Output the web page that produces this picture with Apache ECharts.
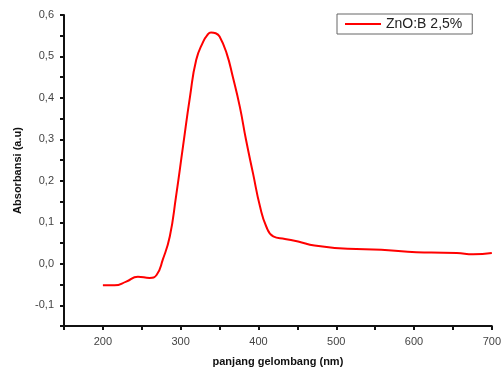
<!DOCTYPE html>
<html>
<head>
<meta charset="utf-8">
<script src="https://cdn.jsdelivr.net/npm/echarts@6/dist/echarts.min.js"></script>
<style>
  html, body { margin: 0; padding: 0; background: #fff; }
  #chart { width: 504px; height: 373px; }
</style>
</head>
<body>
<div id="chart"></div>
<script>
'use strict';
// UV-Vis absorbance spectrum
const wavelength = [200, 215, 230, 245, 260, 269, 277, 286, 294, 303, 312, 320, 329, 334, 339, 345, 350, 359, 367, 376, 384, 393, 402, 410, 419, 434, 451, 472, 515, 558, 592, 622, 655, 676, 700];
const absorbance = [-0.052, -0.052, -0.043, -0.031, -0.034, -0.027, 0.010, 0.066, 0.162, 0.283, 0.403, 0.492, 0.536, 0.551, 0.558, 0.556, 0.548, 0.508, 0.451, 0.379, 0.299, 0.218, 0.138, 0.090, 0.066, 0.060, 0.054, 0.044, 0.036, 0.034, 0.029, 0.027, 0.026, 0.023, 0.026];
const seriesName = 'ZnO:B 2,5%';
const xTitle = 'panjang gelombang (nm)';
const yTitle = 'Absorbansi (a.u)';

const font = 'Liberation Sans, Arial, sans-serif';
const comma = (v) => v.toFixed(1).replace('.', ',');

const chart = echarts.init(document.getElementById('chart'), null, { renderer: 'canvas' });
chart.setOption({
  animation: false,
  textStyle: { fontFamily: font },
  grid: { left: 64, right: 12, top: 15, bottom: 47, containLabel: false },
  legend: {
    left: 337, top: 14,
    padding: [3, 10, 3, 8],
    borderColor: '#666', borderWidth: 1,
    itemWidth: 36, itemHeight: 10, itemGap: 4,
    icon: 'path://M0,0 L36,0 L36,2 L0,2 Z',
    textStyle: { fontSize: 14, color: '#222', fontFamily: font },
    data: [seriesName],
  },
  xAxis: {
    type: 'value', min: 150, max: 700, interval: 50,
    name: xTitle, nameLocation: 'middle', nameGap: 30,
    nameTextStyle: { fontWeight: 'bold', fontSize: 11, color: '#111', fontFamily: font },
    axisLine: { show: true, onZero: false, lineStyle: { color: '#111', width: 2 } },
    axisTick: { show: true, length: 4, lineStyle: { color: '#111', width: 2 } },
    axisLabel: {
      fontSize: 11, color: '#444', margin: 10,
      formatter: (v) => (v % 100 === 0 ? String(v) : ''),
    },
    splitLine: { show: false },
  },
  yAxis: {
    type: 'value', min: -0.15, max: 0.6, interval: 0.05,
    name: yTitle, nameLocation: 'middle', nameGap: 41, nameRotate: 90,
    nameTextStyle: { fontWeight: 'bold', fontSize: 11, color: '#111', fontFamily: font },
    axisLine: { show: true, onZero: false, lineStyle: { color: '#111', width: 2 } },
    axisTick: { show: true, length: 4, lineStyle: { color: '#111', width: 2 } },
    axisLabel: {
      fontSize: 11, color: '#444', margin: 10,
      formatter: (v) => (Math.round(v * 100) % 10 === 0 ? comma(v) : ''),
    },
    splitLine: { show: false },
  },
  series: [{
    name: seriesName,
    type: 'line',
    data: wavelength.map((x, i) => [x, absorbance[i]]),
    smooth: 0.5,
    showSymbol: false,
    lineStyle: { color: '#ff0000', width: 2 },
    itemStyle: { color: '#ff0000' },
  }],
});
</script>
</body>
</html>
